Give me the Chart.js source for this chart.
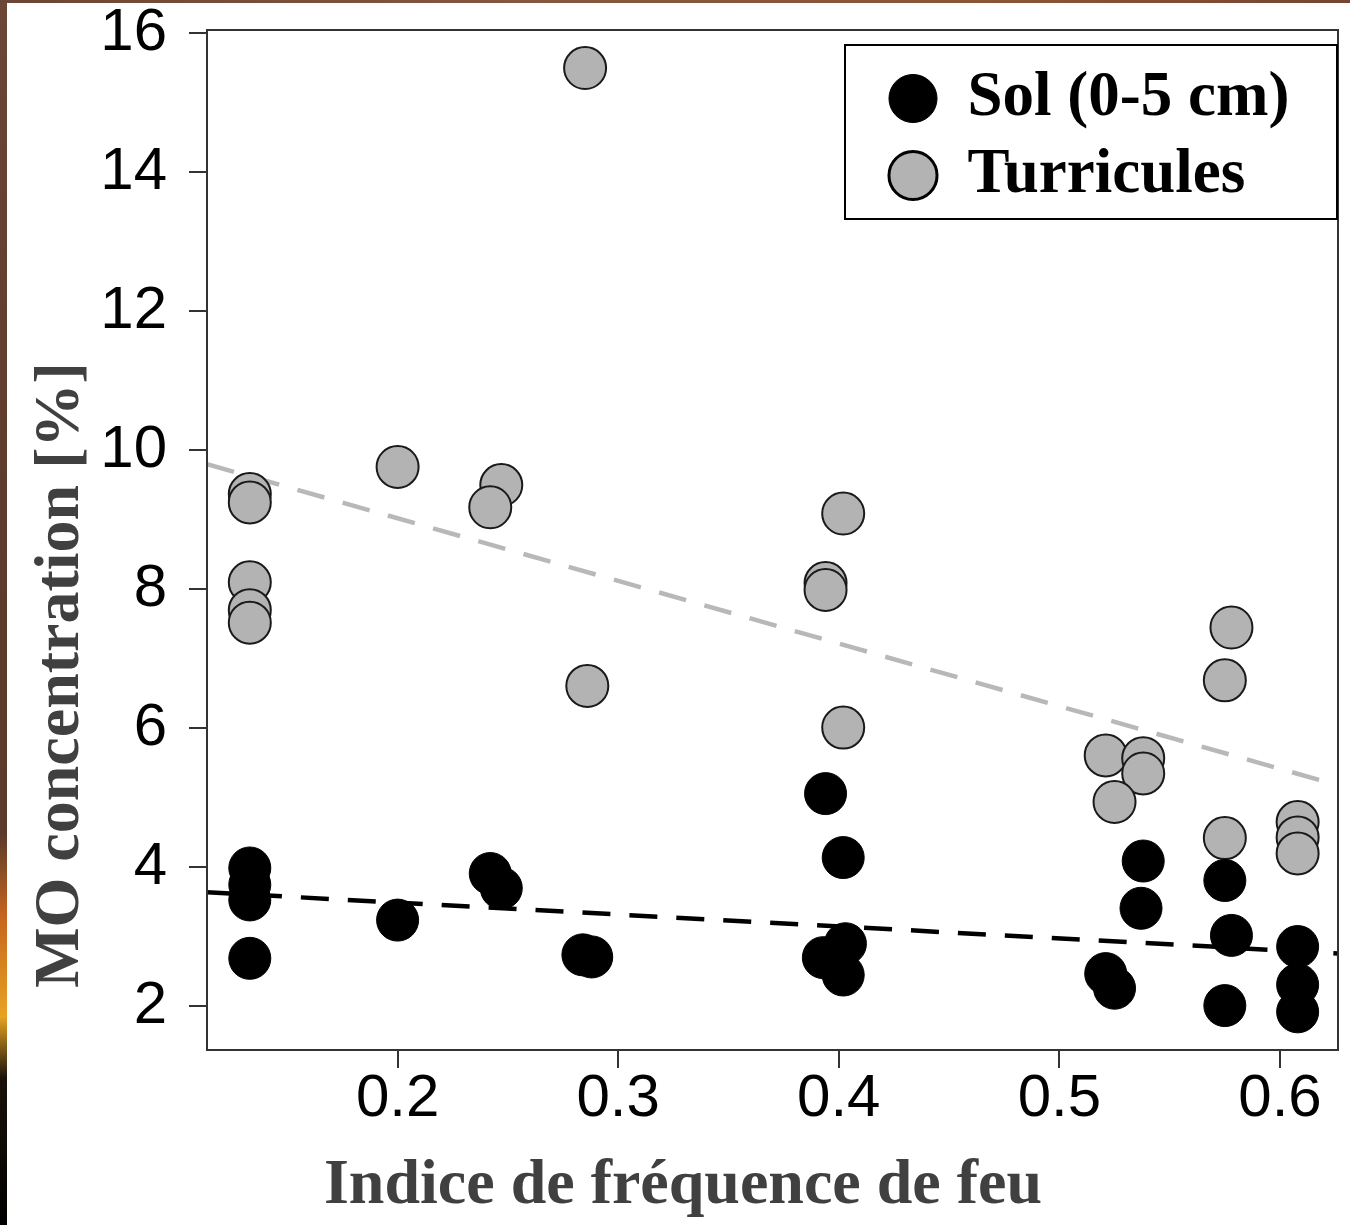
<!DOCTYPE html>
<html>
<head>
<meta charset="utf-8">
<script src="https://cdn.jsdelivr.net/npm/chart.js@4.4.1/dist/chart.umd.min.js"></script>
<style>
  body { margin: 0; background: #fff; }
  #page { position: relative; width: 1350px; height: 1225px; overflow: hidden; }
  #edgeLeft { position: absolute; left: 0; top: 0; width: 7px; height: 1225px;
    background: linear-gradient(to bottom, #6b4535 0%, #5e3c2c 40%, #5a3a2a 68%, #c8661e 75%, #e7a322 83%, #1a1208 88%, #000 100%); }
  #edgeTop { position: absolute; left: 0; top: 0; width: 1350px; height: 3px;
    background: linear-gradient(to right, #6b4535 0%, #85583f 40%, #8a5536 75%, #754530 100%); }
  #box { position: absolute; left: 7px; top: 3px; width: 1343px; height: 1222px; background: #fff; }
</style>
</head>
<body>
<div id="page">
  <div id="edgeLeft"></div>
  <div id="edgeTop"></div>
  <div id="box"><canvas id="chart" width="1343" height="1222"></canvas></div>
</div>
<script>
// values
const solX = [0.133, 0.133, 0.133, 0.133, 0.200, 0.242, 0.247, 0.284, 0.288,
              0.394, 0.402, 0.393, 0.403, 0.402, 0.521, 0.525, 0.538, 0.537,
              0.575, 0.578, 0.575, 0.608, 0.608, 0.608];
const solY = [3.99, 3.75, 3.53, 2.69, 3.24, 3.91, 3.70, 2.74, 2.71,
              5.06, 4.14, 2.70, 2.90, 2.45, 2.47, 2.26, 4.09, 3.41,
              3.81, 3.02, 2.01, 2.86, 2.31, 1.92];
const turX = [0.133, 0.133, 0.133, 0.133, 0.133, 0.200, 0.247, 0.242, 0.285, 0.286,
              0.402, 0.394, 0.394, 0.402, 0.521, 0.538, 0.538, 0.525,
              0.578, 0.575, 0.575, 0.608, 0.608, 0.608];
const turY = [9.37, 9.25, 8.10, 7.70, 7.52, 9.76, 9.50, 9.18, 15.50, 6.61,
              9.09, 8.09, 7.99, 6.01, 5.61, 5.57, 5.35, 4.94,
              7.45, 6.69, 4.42, 4.65, 4.43, 4.20];

// regression lines, ends at the axis limits
const fitX = [0.1136, 0.6263];
const solFit = [3.64, 2.76];
const turFit = [9.80, 5.18];

const xTicks = [0.2, 0.3, 0.4, 0.5, 0.6];
const yTicks = [2, 4, 6, 8, 10, 12, 14, 16];
const seriesNames = ['Sol (0-5 cm)', 'Turricules'];
const xTitle = 'Indice de fréquence de feu';
const yTitle = 'MO concentration [%]';

const toPoints = (xs, ys) => xs.map((x, i) => ({x: x, y: ys[i]}));

const GREY = '#b3b3b3';
const AXIS = '#333';

// box around plot, legend frame, axis titles
const decor = {
  id: 'decor',
  afterLayout(chart) {
    const a = chart.chartArea, lg = chart.legend;
    const fr = {left: a.right - 493, top: a.top + 15};
    chart.$frame = fr;
    lg.left = fr.left + 31;
    lg.top = fr.top + 8;
    lg.right = a.right;
    lg.bottom = fr.top + 200;
    lg.width = lg.right - lg.left;
    lg.height = lg.bottom - lg.top;
  },
  afterDraw(chart) {
    const ctx = chart.ctx, a = chart.chartArea, fr = chart.$frame;
    ctx.save();
    ctx.strokeStyle = AXIS;
    ctx.lineWidth = 2;
    ctx.strokeRect(a.left, a.top, a.right - a.left, a.bottom - a.top);
    ctx.strokeStyle = '#000';
    ctx.strokeRect(fr.left, fr.top, 492, 174);

    ctx.fillStyle = '#404040';
    ctx.font = 'bold 64px "Liberation Serif"';
    ctx.textAlign = 'center';
    ctx.textBaseline = 'alphabetic';
    ctx.fillText(xTitle, 676, 1200);
    ctx.translate(71, 672);
    ctx.rotate(-Math.PI / 2);
    ctx.fillText(yTitle, 0, 0);
    ctx.restore();
  }
};

new Chart(document.getElementById('chart'), {
  type: 'scatter',
  data: {
    datasets: [
      {label: seriesNames[0], data: toPoints(solX, solY), pointRadius: 21,
       backgroundColor: '#000', borderColor: '#000', borderWidth: 1},
      {label: seriesNames[1], data: toPoints(turX, turY), pointRadius: 21,
       backgroundColor: GREY, borderColor: '#1a1a1a', borderWidth: 2},
      {label: 'fit sol', data: toPoints(fitX, solFit), showLine: true, pointRadius: 0,
       borderColor: '#000', borderWidth: 4.5, borderDash: [28, 19]},
      {label: 'fit tur', data: toPoints(fitX, turFit), showLine: true, pointRadius: 0,
       borderColor: '#b8b8b8', borderWidth: 4.5, borderDash: [28, 19]}
    ]
  },
  options: {
    responsive: false,
    animation: false,
    layout: {autoPadding: false, padding: {left: 0, top: 27, right: 12, bottom: 0}},
    scales: {
      x: {
        type: 'linear', min: 0.1136, max: 0.6263,
        afterBuildTicks: s => { s.ticks = xTicks.map(v => ({value: v})); },
        afterFit: s => { s.height = 175; s.paddingLeft = 0; s.paddingRight = 0; },
        ticks: {color: '#000', padding: -5, font: {family: 'Liberation Sans', size: 60},
                maxRotation: 0, callback: v => v.toFixed(1)},
        grid: {drawOnChartArea: false, tickLength: 18, color: AXIS, lineWidth: 2},
        border: {display: true, color: AXIS, width: 2}
      },
      y: {
        type: 'linear', min: 1.371, max: 16.047,
        afterBuildTicks: s => { s.ticks = yTicks.map(v => ({value: v})); },
        afterFit: s => { s.width = 200; s.paddingTop = 0; s.paddingBottom = 0; },
        ticks: {color: '#000', padding: 22, font: {family: 'Liberation Sans', size: 60},
                callback: v => String(v)},
        grid: {drawOnChartArea: false, tickLength: 18, color: AXIS, lineWidth: 2},
        border: {display: true, color: AXIS, width: 2}
      }
    },
    plugins: {
      tooltip: {enabled: false},
      legend: {
        position: 'chartArea',
        align: 'start',
        labels: {
          usePointStyle: true,
          boxWidth: 46,
          boxHeight: 34,
          padding: 14,
          color: '#000',
          font: {family: 'Liberation Serif', size: 63, weight: 'bold'},
          generateLabels: chart => {
            const items = Chart.defaults.plugins.legend.labels.generateLabels(chart).slice(0, 2);
            items[1].lineWidth = 3;
            items[1].strokeStyle = '#000';
            return items;
          }
        }
      }
    }
  },
  plugins: [decor]
});
</script>
</body>
</html>
